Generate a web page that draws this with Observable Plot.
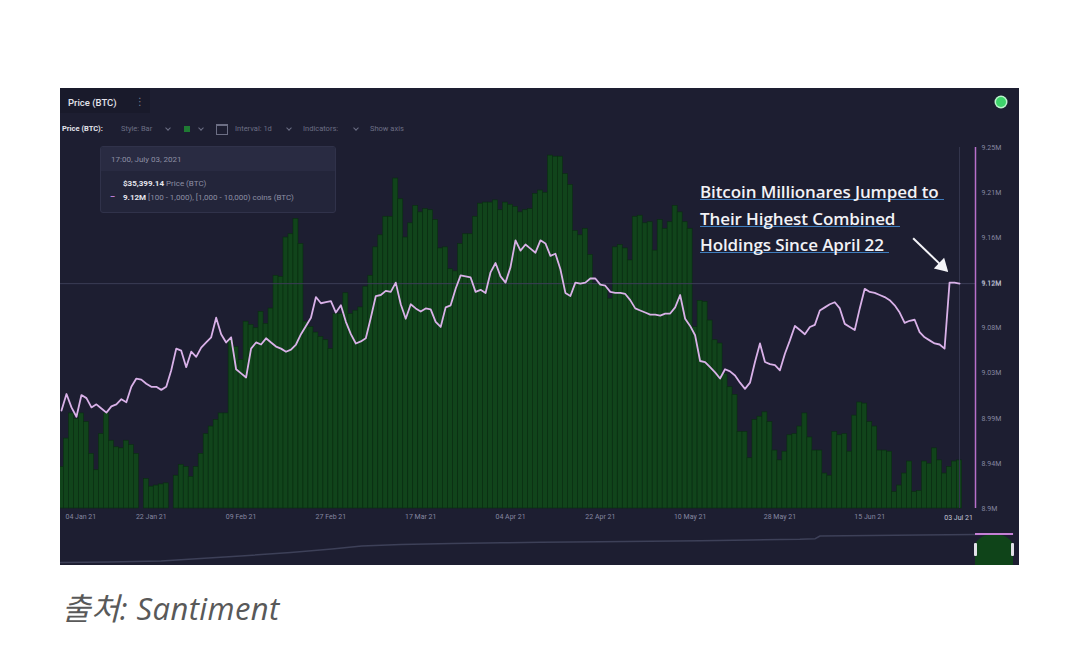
<!DOCTYPE html>
<html><head><meta charset="utf-8">
<script src="https://cdn.jsdelivr.net/npm/d3@7"></script>
<script src="https://cdn.jsdelivr.net/npm/@observablehq/plot@0.6"></script>
<style>
html,body{margin:0;padding:0;background:#fff;width:1080px;height:656px;overflow:hidden;font-family:Roboto,"Open Sans","DejaVu Sans",sans-serif;}
#panel{position:absolute;left:60px;top:88px;width:959px;height:477px;background:#1d1e31;overflow:hidden;}
.abs{position:absolute;white-space:nowrap;}
.layer{position:absolute;left:0;top:0;}
.tb{font-size:7.5px;color:#6c6e84;top:36px;line-height:10px;}
.chev{position:absolute;top:38px;width:3px;height:3px;border-right:1px solid #6c6e84;border-bottom:1px solid #6c6e84;transform:rotate(45deg);}
.ann{left:640px;font-family:"Open Sans",Lato,sans-serif;font-weight:600;font-size:17px;line-height:15px;color:#f2f2f6;border-bottom:1.5px solid #3f7dbd;padding-right:5px;letter-spacing:-0.1px;}
#caption{position:absolute;left:62px;top:584px;font-size:31px;font-style:italic;color:#595959;font-family:"Open Sans","Noto Sans CJK KR",sans-serif;letter-spacing:0.4px;}
</style></head><body>
<div id="panel">
  <div class="abs" style="left:0;top:0;width:90px;height:25px;background:#191a2b;"></div>
  <div class="abs" style="left:8px;top:9px;font-size:9.5px;color:#e4e4ec;font-weight:500;">Price (BTC)</div>
  <div class="abs" style="left:75px;top:8px;font-size:10px;color:#7a7c90;">⋮</div>
  <div class="abs tb" style="left:2px;color:#e4e4ec;font-weight:700;">Price (BTC):</div>
  <div class="abs tb" style="left:61px;">Style: Bar</div>
  <div class="chev" style="left:106px;"></div>
  <div class="abs" style="left:124px;top:38px;width:6px;height:6px;background:#1f7a33;"></div>
  <div class="chev" style="left:139px;"></div>
  <div class="abs" style="left:156px;top:36px;width:10px;height:8px;border:1px solid #6c6e84;border-top-width:2px;"></div>
  <div class="abs tb" style="left:175px;">Interval: 1d</div>
  <div class="chev" style="left:227px;"></div>
  <div class="abs tb" style="left:243px;">Indicators:</div>
  <div class="chev" style="left:294px;"></div>
  <div class="abs tb" style="left:310px;">Show axis</div>
  <div class="abs" style="left:936px;top:9px;width:10px;height:10px;border-radius:50%;background:#3ed46b;box-shadow:0 0 0 1.5px #b9f5cb;"></div>
  <div id="bars" class="layer"></div>
  <div id="lines" class="layer"></div>
  <div class="abs" style="left:40px;top:58px;width:234px;height:65px;background:#23253a;border:1px solid #30324a;border-radius:3px;overflow:hidden;">
    <div class="abs" style="left:0;top:0;width:234px;height:24px;background:#292b42;"></div>
    <div class="abs" style="left:10px;top:8px;font-size:8px;color:#8d8fa4;">17:00, July 03, 2021</div>
    <div class="abs" style="left:22px;top:32px;font-size:8px;color:#8d8fa4;"><b id="ttPrice" style="color:#e6e6ee;"></b> Price (BTC)</div>
    <div class="abs" style="left:9px;top:45px;font-size:8px;color:#d28be3;font-weight:700;">–</div>
    <div class="abs" style="left:22px;top:46px;font-size:8px;color:#8d8fa4;"><b id="ttHold" style="color:#e6e6ee;"></b> [100 - 1,000), [1,000 - 10,000) coins (BTC)</div>
  </div>
  <div class="abs ann" style="top:96px;">Bitcoin Millionares Jumped to</div>
  <div class="abs ann" style="top:123px;">Their Highest Combined</div>
  <div class="abs ann" style="top:149px;">Holdings Since April 22</div>
  <div id="nav" class="abs" style="left:0;top:441px;"></div>
  <div class="abs" style="left:915px;top:446px;width:38px;height:31px;background:#0f4419;border-radius:50% 50% 0 0 / 40% 40% 0 0;"></div>
  <div class="abs" style="left:915px;top:445px;width:38px;height:1.5px;background:#c47fd4;"></div>
  <div class="abs" style="left:914px;top:455px;width:3px;height:13px;background:#e2e2e8;border-radius:1px;"></div>
  <div class="abs" style="left:951px;top:455px;width:3px;height:13px;background:#e2e2e8;border-radius:1px;"></div>
</div>
<div id="caption">출처: Santiment</div>
<script>
// ---------------- data ----------------
const startDate = "2021-01-04";
// BTC price (thousand USD), daily bars, Jan 4 – Jul 3 2021
const priceK = [
34.8,37.4,39.7,39.2,39.7,38.9,36.0,34.5,37.8,39.7,
37.2,36.6,36.5,37.2,36.8,36.0,31.0,33.7,33.0,33.1,
33.2,33.3,31.0,34.0,35.0,34.8,33.9,34.8,36.0,37.8,
38.5,39.1,39.7,39.7,46.4,45.8,44.6,48.1,47.8,47.5,
49.0,47.9,49.3,52.3,52.2,55.8,56.1,57.5,55.2,48.1,
47.6,47.1,46.7,46.4,45.6,48.8,48.8,50.7,48.8,49.1,
49.4,51.3,52.3,54.9,56.0,57.7,57.7,61.2,59.3,55.8,
57.1,58.7,58.1,58.4,58.3,57.4,54.8,54.9,52.9,52.7,
55.2,56.1,56.1,57.7,58.9,59.0,59.0,59.2,58.3,59.0,
58.8,58.6,58.1,58.3,58.4,59.8,60.1,59.9,63.3,63.2,
63.2,61.6,60.6,56.4,56.0,56.6,54.2,51.6,51.6,51.3,
50.2,54.9,55.1,54.8,53.7,57.7,57.8,57.1,57.2,54.6,
57.4,56.6,57.2,58.7,58.1,57.2,56.6,47.6,50.0,49.9,
48.2,46.4,46.1,43.3,42.1,41.4,38.0,38.0,35.6,39.1,
39.4,39.8,38.9,36.3,35.4,36.2,37.7,37.8,38.5,39.7,
37.5,36.3,36.3,34.2,34.0,38.0,37.7,37.8,36.2,39.5,
40.7,40.6,38.9,38.5,36.3,36.3,36.2,32.5,33.1,34.2,
35.3,32.5,32.6,35.3,35.1,36.5,35.4,34.2,34.8,35.3,
35.4];
// Combined holdings of 100–10,000 BTC wallets (million BTC)
const holdingsM = [
8.995,9.011,8.998,8.989,9.010,9.007,8.998,9.001,8.997,8.993,
8.999,9.001,9.006,9.003,9.018,9.026,9.025,9.021,9.018,9.018,
9.015,9.018,9.034,9.055,9.053,9.037,9.052,9.047,9.056,9.061,
9.066,9.085,9.069,9.061,9.066,9.035,9.031,9.027,9.055,9.061,
9.059,9.065,9.061,9.057,9.055,9.052,9.054,9.059,9.069,9.077,
9.085,9.105,9.099,9.100,9.101,9.090,9.097,9.081,9.069,9.060,
9.062,9.065,9.085,9.106,9.107,9.111,9.110,9.119,9.098,9.084,
9.098,9.094,9.091,9.094,9.093,9.081,9.076,9.095,9.097,9.113,
9.126,9.125,9.124,9.110,9.112,9.109,9.129,9.138,9.125,9.119,
9.134,9.160,9.150,9.156,9.152,9.148,9.160,9.157,9.145,9.147,
9.132,9.109,9.106,9.119,9.118,9.119,9.123,9.123,9.117,9.116,
9.110,9.109,9.109,9.108,9.102,9.094,9.092,9.090,9.088,9.088,
9.087,9.089,9.089,9.095,9.107,9.084,9.077,9.068,9.043,9.042,
9.037,9.032,9.026,9.035,9.033,9.029,9.022,9.016,9.022,9.042,
9.060,9.042,9.040,9.039,9.034,9.050,9.063,9.077,9.073,9.069,
9.076,9.078,9.092,9.095,9.098,9.100,9.094,9.079,9.076,9.073,
9.094,9.113,9.110,9.109,9.107,9.105,9.102,9.097,9.090,9.080,
9.082,9.083,9.071,9.066,9.063,9.060,9.059,9.055,9.119,9.119,
9.118];
const xTickDates = ["2021-01-04","2021-01-22","2021-02-09","2021-02-27","2021-03-17","2021-04-04","2021-04-22","2021-05-10","2021-05-28","2021-06-15","2021-07-03"];
const yTickValues = [8.9,8.94375,8.9875,9.03125,9.075,9.11875,9.1625,9.20625,9.25];
const yTickLabels = ["8.9M","8.94M","8.99M","9.03M","9.08M","9.12M","9.16M","9.21M","9.25M"];
const tooltipPrice = "$35,399.14";
// annotation arrow: [day offset from start, holdings]
const arrowFrom = [170.7, 9.162];
const arrowTo = [176.5, 9.135];
// navigator overview line (relative position, level)
const navPos = [0,0.05,0.105,0.146,0.188,0.24,0.283,0.314,0.355,0.408,0.46,0.501,0.563,0.615,0.667,0.72,0.771,0.787,0.792,0.845,0.897,0.954,0.993];
const navLevel = [3,3.5,4.5,7,9.5,13,16.5,19.5,21,22,22.7,23.3,23.8,24.2,24.8,25.5,26.2,26.8,29.5,30,30.5,31,31.5];

// ---------------- layout ----------------
const W = 959, H = 477, M = {marginLeft: 0, marginRight: 44, marginTop: 59, marginBottom: 57};
const DAY = 864e5;
const t0 = new Date(startDate + "T00:00:00Z");
const rows = priceK.map((p, i) => {
  const date = new Date(+t0 + i * DAY);
  return {date, price: p, holdings: holdingsM[i], x1: new Date(+date - DAY / 2), x2: new Date(+date + DAY / 2)};
});
const last = rows[rows.length - 1];
const xDomain = [new Date(+t0 - 0.2 * DAY), new Date(+t0 + 183.2 * DAY)];
const priceBase = 31.0;
const fmtDate = d3.utcFormat("%d %b %y");
const tickDates = xTickDates.map(s => new Date(s + "T00:00:00Z"));

document.getElementById("ttPrice").textContent = tooltipPrice;
document.getElementById("ttHold").textContent = last.holdings.toFixed(2) + "M";

const barsPlot = Plot.plot({
  width: W, height: H, ...M,
  style: {background: "transparent"},
  x: {type: "utc", domain: xDomain, axis: null},
  y: {domain: [priceBase, 64.04], axis: null, clamp: true},
  marks: [
    Plot.rectY(rows, {x1: "x1", x2: "x2", y1: priceBase, y2: "price", fill: "#11441b", stroke: "#0a2d11", strokeWidth: 0.6})
  ]
});
document.getElementById("bars").appendChild(barsPlot);

const arrowData = [{x1: new Date(+t0 + arrowFrom[0] * DAY), y1: arrowFrom[1], x2: new Date(+t0 + arrowTo[0] * DAY), y2: arrowTo[1]}];
const axisColor = "#8587a0";
const linePlot = Plot.plot({
  width: W, height: H, ...M,
  style: {background: "transparent", fontFamily: "Roboto, sans-serif", fontSize: "7px", color: axisColor},
  x: {type: "utc", domain: xDomain},
  y: {domain: [8.9, 9.25]},
  marks: [
    Plot.ruleY([last.holdings], {stroke: "#3b3d56", strokeWidth: 1}),
    Plot.ruleX([last.date], {stroke: "#34364e", strokeWidth: 1}),
    Plot.ruleX([xDomain[1]], {stroke: "#b86fca", strokeWidth: 1.5}),
    Plot.line(rows, {x: "date", y: "holdings", stroke: "#d9b1e8", strokeWidth: 1.8, strokeLinejoin: "round"}),
    Plot.axisY({anchor: "right", ticks: yTickValues, tickFormat: d => yTickLabels[yTickValues.indexOf(d)], tickSize: 0, tickPadding: 6, fontSize: 7, fill: axisColor}),
    Plot.axisX({ticks: tickDates.slice(0, 1), tickFormat: fmtDate, tickSize: 0, tickPadding: 6, textAnchor: "start", dx: 4, fontSize: 7, fill: axisColor}),
    Plot.axisX({ticks: tickDates.slice(1, -1), tickFormat: fmtDate, tickSize: 0, tickPadding: 6, fontSize: 7, fill: axisColor}),
    Plot.text([last], {x: "date", y: () => 8.9, text: d => fmtDate(d.date), dy: 9, dx: -1, fontSize: 7, fill: "#c3c6d6", ariaLabel: "hl-x"}),
    Plot.text([last], {x: () => xDomain[1], y: "holdings", text: d => d.holdings.toFixed(2) + "M", textAnchor: "start", dx: 6, fontSize: 7, fill: "#c3c6d6", ariaLabel: "hl-y"}),
    Plot.link(arrowData, {x1: "x1", y1: "y1", x2: "x2", y2: "y2", stroke: "#f4f4f8", strokeWidth: 2}),
    Plot.dot(arrowData, {x: "x2", y: "y2", symbol: "triangle", r: 5.5, fill: "#f4f4f8", rotate: 134})
  ]
});
document.getElementById("lines").appendChild(linePlot);

function boxify(svg, label, fill, stroke) {
  svg.querySelectorAll(`g[aria-label="${label}"] text`).forEach(t => {
    const b = t.getBBox();
    const r = document.createElementNS("http://www.w3.org/2000/svg", "rect");
    r.setAttribute("x", b.x - 2); r.setAttribute("y", b.y - 1.5);
    r.setAttribute("width", b.width + 4); r.setAttribute("height", b.height + 3);
    r.setAttribute("fill", fill); r.setAttribute("stroke", stroke); r.setAttribute("stroke-width", 0.8);
    if (t.getAttribute("transform")) r.setAttribute("transform", t.getAttribute("transform"));
    t.parentNode.insertBefore(r, t);
  });
}
boxify(linePlot, "hl-x", "#3b4868", "#45527a");
boxify(linePlot, "hl-y", "#3a3d5e", "#a3a6c8");

const navRows = navPos.map((p, i) => ({p, v: navLevel[i]}));
const navPlot = Plot.plot({
  width: W, height: 36, marginLeft: 0, marginRight: 0, marginTop: 0, marginBottom: 0,
  style: {background: "transparent"},
  x: {domain: [0, 1], axis: null},
  y: {domain: [0, 36], axis: null},
  marks: [
    Plot.line(navRows, {x: "p", y: "v", stroke: "#3d4058", strokeWidth: 1.5})
  ]
});
document.getElementById("nav").appendChild(navPlot);
</script>
</body></html>
